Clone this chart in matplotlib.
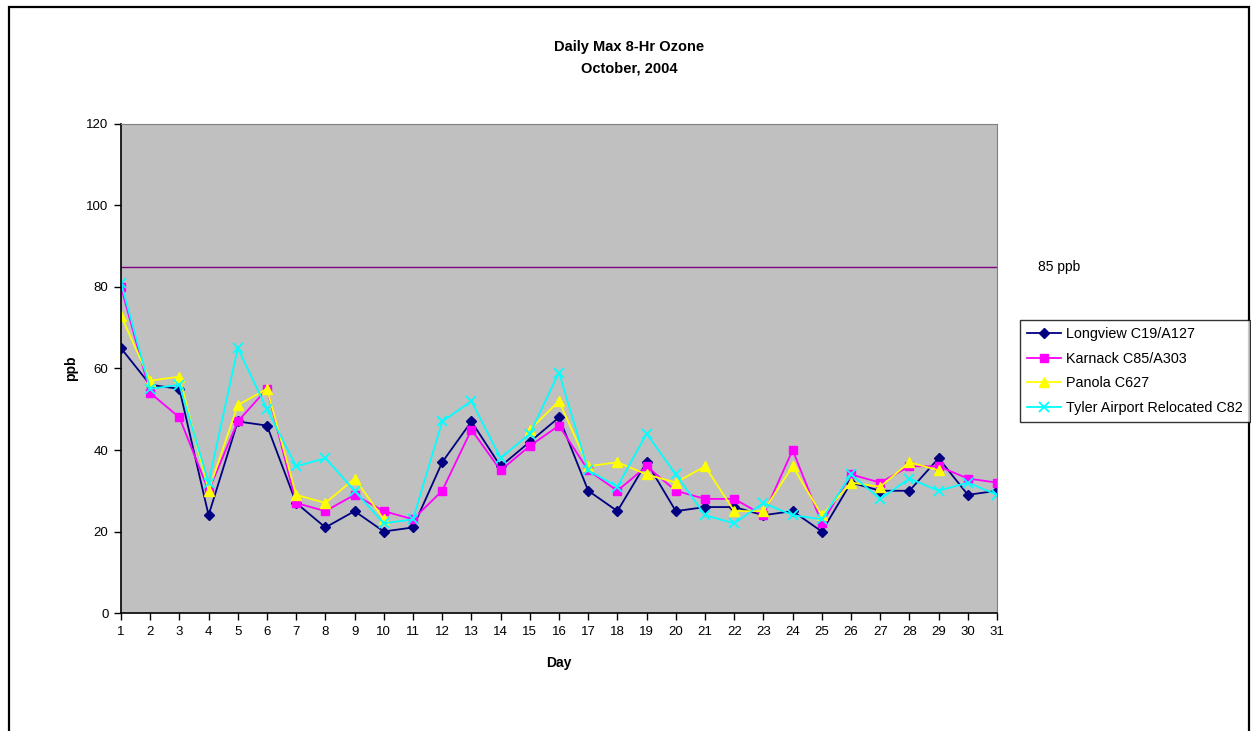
import numpy as np
import matplotlib.pyplot as plt
from matplotlib.patches import Rectangle
from matplotlib.transforms import blended_transform_factory

plt.rcParams['font.family'] = ['Liberation Sans', 'DejaVu Sans']

nan = np.nan
days = list(range(1, 32))

longview = [65, 56, 55, 24, 47, 46, 27, 21, 25, 20, 21, 37, 47, 36, 42, 48,
            30, 25, 37, 25, 26, 26, 24, 25, 20, 32, 30, 30, 38, 29, 30]
karnack = [80, 54, 48, 30, 47, 55, 27, 25, 29, 25, 23, 30, 45, 35, 41, 46,
           35, 30, 36, 30, 28, 28, 24, 40, 22, 34, 32, 36, 36, 33, 32]
panola = [73, 57, 58, 30, 51, 55, 29, 27, 33, 23, nan, nan, nan, nan, 45, 52,
          36, 37, 34, 32, 36, 25, 25, 36, 24, 32, 31, 37, 35, nan, nan]
tyler = [81, 55, 56, 32, 65, 50, 36, 38, 30, 22, 23, 47, 52, 38, 44, 59,
         35, 31, 44, 34, 24, 22, 27, 24, 23, 34, 28, 33, 30, 32, 29]

standard = 85
series_names = ['Longview C19/A127', 'Karnack C85/A303', 'Panola C627',
                'Tyler Airport Relocated C82']

fig = plt.figure(figsize=(12.51, 7.31), dpi=100)
ax = fig.add_axes([0.0967, 0.1614, 0.7003, 0.669])
ax.set_facecolor('#C0C0C0')

# outer chart frame
fig.patches.append(Rectangle((9 / 1251, -0.05), 1240 / 1251, 1.05 - 7 / 731,
                             transform=fig.transFigure, fill=False,
                             edgecolor='black', linewidth=1.6))

ax.axhline(standard, color='#800080', linewidth=1.0, zorder=1)
trans = blended_transform_factory(ax.transAxes, ax.transData)
ax.text(1.047, standard, '85 ppb', transform=trans, va='center', ha='left',
        fontsize=10)

ax.plot(days, longview, color='#000080', marker='D', markersize=5, lw=1.3,
        label=series_names[0])
ax.plot(days, karnack, color='#FF00FF', marker='s', markersize=6, lw=1.3,
        label=series_names[1])
ax.plot(days, panola, color='#FFFF00', marker='^', markersize=6.5, lw=1.3,
        label=series_names[2])
ax.plot(days, tyler, color='#00FFFF', marker='x', markersize=7, lw=1.3,
        mew=1.3, label=series_names[3])

ax.set_xlim(1, 31)
ax.set_ylim(0, 120)
ax.set_xticks(days)
ax.set_yticks(range(0, 121, 20))
ax.tick_params(direction='out', length=5, width=1, labelsize=9.5, pad=4)

for side in ['top', 'right']:
    ax.spines[side].set_color('#808080')
for side in ['left', 'bottom']:
    ax.spines[side].set_color('black')
    ax.spines[side].set_linewidth(1.2)

ax.set_xlabel('Day', fontsize=10, fontweight='bold', labelpad=13.5)
ax.set_ylabel('ppb', fontsize=10, fontweight='bold', labelpad=6)

fig.text(0.503, 0.921, 'Daily Max 8-Hr Ozone\nOctober, 2004', ha='center',
         va='center', fontsize=10.5, fontweight='bold', linespacing=1.75)

leg = fig.legend(loc='upper left', bbox_to_anchor=(0.815, 0.562),
                 bbox_transform=fig.transFigure, fontsize=10.4, frameon=True,
                 fancybox=False, borderaxespad=0, handlelength=2.4,
                 labelspacing=0.72, handletextpad=0.3, borderpad=0.5)
leg.get_frame().set_edgecolor('black')
leg.get_frame().set_linewidth(1.0)

fig.savefig('out.png', dpi=100)
